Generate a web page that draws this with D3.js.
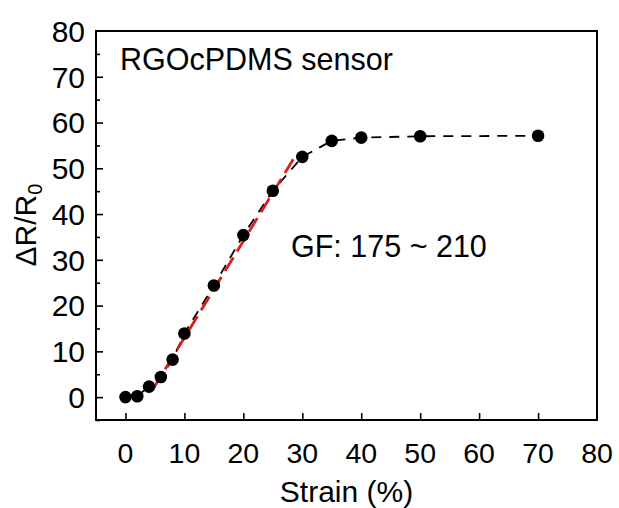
<!DOCTYPE html>
<html>
<head>
<meta charset="utf-8">
<script src="https://cdn.jsdelivr.net/npm/d3@7"></script>
<style>
  body { margin: 0; background: #fff; }
  text { font-family: "Liberation Sans", Arial, sans-serif; fill: #000; }
</style>
</head>
<body>
<div id="chart"></div>
<script>
// measured data
const strain = [0, 2, 4, 6, 8, 10, 15, 20, 25, 30, 35, 40, 50, 70];
const resistance = [0, 0.2, 2.3, 4.4, 8.2, 13.9, 24.4, 35.4, 45.1, 52.5, 56.0, 56.7, 57.0, 57.1];

// linear fit (red dashed)
const fitStrain = [4.7, 29];
const fitResistance = [1.8, 53.1];

const xTicks = [0, 10, 20, 30, 40, 50, 60, 70, 80];
const yTicks = [0, 10, 20, 30, 40, 50, 60, 70, 80];
const yMinorTicks = [-5, 5, 15, 25, 35, 45, 55, 65, 75];

const W = 619, H = 508;
const margin = {top: 31, right: 22, bottom: 88, left: 96};
const width = W - margin.left - margin.right;
const height = H - margin.top - margin.bottom;

const svg = d3.select("#chart").append("svg")
    .attr("width", W)
    .attr("height", H);

const g = svg.append("g")
    .attr("transform", `translate(${margin.left}, ${margin.top})`);

const x = d3.scaleLinear().domain([-5, 80]).range([0, width]);
const y = d3.scaleLinear().domain([-5, 80]).range([height, 0]);

// ticks (inward)
g.append("g")
    .attr("transform", `translate(0, ${height})`)
    .call(d3.axisBottom(x).tickValues(xTicks.filter(d => d < 80)).tickSizeInner(-7).tickSizeOuter(0).tickFormat(""))
    .call(a => a.select(".domain").remove())
    .selectAll("line").attr("stroke-width", 1.6);

g.append("g")
    .call(d3.axisLeft(y).tickValues(yTicks.filter(d => d < 80)).tickSizeInner(-7).tickSizeOuter(0).tickFormat(""))
    .call(a => a.select(".domain").remove())
    .selectAll("line").attr("stroke-width", 1.6);

g.append("g")
    .call(d3.axisLeft(y).tickValues(yMinorTicks).tickSizeInner(-4).tickSizeOuter(0).tickFormat(""))
    .call(a => a.select(".domain").remove())
    .selectAll("line").attr("stroke-width", 1.6);

// tick labels
g.selectAll(".xlab")
    .data(xTicks)
    .join("text")
    .attr("class", "xlab")
    .attr("x", d => x(d))
    .attr("y", height + 43)
    .attr("text-anchor", "middle")
    .style("font-size", "28.5px")
    .text(d => d);

g.selectAll(".ylab")
    .data(yTicks)
    .join("text")
    .attr("class", "ylab")
    .attr("x", -11)
    .attr("y", d => y(d))
    .attr("dy", "0.36em")
    .attr("text-anchor", "end")
    .style("font-size", "30px")
    .text(d => d);

// frame
g.append("rect")
    .attr("width", width)
    .attr("height", height)
    .attr("fill", "none")
    .attr("stroke", "#000")
    .attr("stroke-width", 2);

// black dashed connector
const line = d3.line()
    .x(d => x(d[0]))
    .y(d => y(d[1]));

const pts = strain.map((s, i) => [s, resistance[i]]);

g.append("path")
    .datum(pts)
    .attr("d", line)
    .attr("fill", "none")
    .attr("stroke", "#000")
    .attr("stroke-width", 1.8)
    .attr("stroke-dasharray", "10,8");

// red fit line
g.append("path")
    .datum(fitStrain.map((s, i) => [s, fitResistance[i]]))
    .attr("d", line)
    .attr("fill", "none")
    .attr("stroke", "#d8201c")
    .attr("stroke-width", 2.8)
    .attr("stroke-dasharray", "16,7");

// markers
g.selectAll(".pt")
    .data(pts)
    .join("circle")
    .attr("class", "pt")
    .attr("cx", d => x(d[0]))
    .attr("cy", d => y(d[1]))
    .attr("r", 6.3)
    .attr("fill", "#000");

// annotations
g.append("text")
    .attr("x", 24)
    .attr("y", 39)
    .style("font-size", "30.5px")
    .text("RGOcPDMS sensor");

g.append("text")
    .attr("x", 195)
    .attr("y", 226)
    .style("font-size", "30.5px")
    .text("GF: 175 ~ 210");

// axis titles
svg.append("text")
    .attr("x", margin.left + width / 2)
    .attr("y", 502)
    .attr("text-anchor", "middle")
    .style("font-size", "30px")
    .text("Strain (%)");

const yt = svg.append("text")
    .attr("transform", `translate(36, 225) rotate(-90)`)
    .attr("text-anchor", "middle")
    .style("font-size", "30px");
yt.append("tspan").text("\u0394R/R");
yt.append("tspan").attr("dy", "0.3em").style("font-size", "20px").text("0");
</script>
</body>
</html>
